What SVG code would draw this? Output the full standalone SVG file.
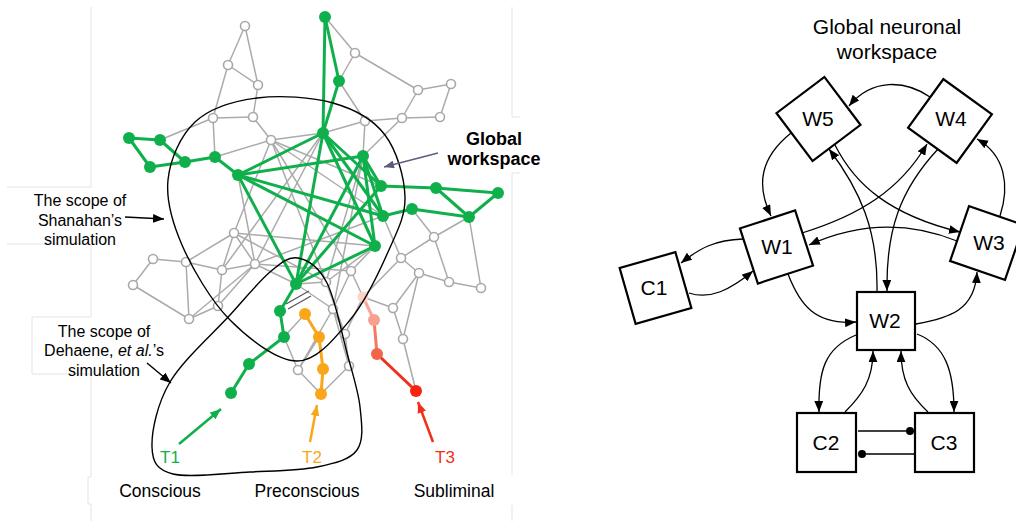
<svg xmlns="http://www.w3.org/2000/svg" width="1016" height="521" viewBox="0 0 1016 521">
<defs>
<style>
text{font-family:"Liberation Sans",Arial,sans-serif;fill:#000}
.bd{fill:none;stroke:#e3e3e3;stroke-width:1}
.ge{stroke:#ababab;stroke-width:1.5;fill:none}
.gn{fill:#fff;stroke:#a8a8a8;stroke-width:1.6}
.gr{stroke:#0fb04c;stroke-width:3;fill:none}
.grn{fill:#0fb04c}
.or{stroke:#f9a61a;stroke-width:3;fill:none}
.orn{fill:#f9a61a}
.scope{fill:none;stroke:#000;stroke-width:1.4}
.box{fill:#fff;stroke:#000;stroke-width:2.2}
.cn{fill:none;stroke:#000;stroke-width:1.3}
.lbl{font-size:21px;text-anchor:middle}
.note{font-size:16px;text-anchor:middle}
.cat{font-size:17.5px;text-anchor:middle}
</style>
<marker id="ah" viewBox="0 0 10 8" refX="10" refY="4" markerWidth="11" markerHeight="9" markerUnits="userSpaceOnUse" orient="auto"><path d="M0,0 L10,4 L0,8 z" fill="#000"/></marker>
<marker id="ahk" viewBox="0 0 10 8" refX="10" refY="4" markerWidth="11" markerHeight="9" markerUnits="userSpaceOnUse" orient="auto"><path d="M0,0 L10,4 L0,8 z" fill="#000"/></marker>
<marker id="ahs" viewBox="0 0 10 8" refX="10" refY="4" markerWidth="11" markerHeight="8" markerUnits="userSpaceOnUse" orient="auto"><path d="M0,0 L10,4 L0,8 z" fill="#5b5b80"/></marker>
<marker id="ahg" viewBox="0 0 10 8" refX="10" refY="4" markerWidth="11" markerHeight="9" markerUnits="userSpaceOnUse" orient="auto"><path d="M0,0 L10,4 L0,8 z" fill="#0fb04c"/></marker>
<marker id="aho" viewBox="0 0 10 8" refX="10" refY="4" markerWidth="11" markerHeight="9" markerUnits="userSpaceOnUse" orient="auto"><path d="M0,0 L10,4 L0,8 z" fill="#f9a61a"/></marker>
<marker id="ahr" viewBox="0 0 10 8" refX="10" refY="4" markerWidth="11" markerHeight="9" markerUnits="userSpaceOnUse" orient="auto"><path d="M0,0 L10,4 L0,8 z" fill="#f0301a"/></marker>
</defs>
<rect x="0" y="0" width="1016" height="521" fill="#fff"/>

<g id="panel-borders">
<path class="bd" d="M91,7 V187 H7 M7,244 H91 V317 H32 V374 H91 V477 H88 V504 H91 V521 M512,7 V117 H520 M520,173 H512 V475 M512,505 V521"/>
</g>

<g id="network-edges">
<g class="ge">
<line x1="245" y1="26" x2="228" y2="65"/>
<line x1="245" y1="26" x2="258" y2="85"/>
<line x1="228" y1="65" x2="258" y2="85"/>
<line x1="228" y1="65" x2="213" y2="118"/>
<line x1="213" y1="118" x2="253" y2="117"/>
<line x1="258" y1="85" x2="253" y2="117"/>
<line x1="213" y1="118" x2="160" y2="140"/>
<line x1="213" y1="118" x2="215" y2="157"/>
<line x1="253" y1="117" x2="271" y2="140"/>
<line x1="215" y1="157" x2="271" y2="140"/>
<line x1="271" y1="140" x2="323" y2="133"/>
<line x1="355" y1="53" x2="325" y2="17"/>
<line x1="355" y1="53" x2="339" y2="81"/>
<line x1="355" y1="53" x2="418" y2="90"/>
<line x1="365" y1="121" x2="339" y2="81"/>
<line x1="365" y1="121" x2="323" y2="133"/>
<line x1="365" y1="121" x2="363" y2="156"/>
<line x1="365" y1="121" x2="402" y2="118"/>
<line x1="402" y1="118" x2="418" y2="90"/>
<line x1="402" y1="118" x2="440" y2="117"/>
<line x1="418" y1="90" x2="451" y2="84"/>
<line x1="451" y1="84" x2="440" y2="117"/>
<line x1="402" y1="118" x2="363" y2="156"/>
<line x1="271" y1="140" x2="381" y2="186"/>
<line x1="271" y1="140" x2="383" y2="216"/>
<line x1="271" y1="140" x2="351" y2="271"/>
<line x1="271" y1="140" x2="326" y2="282"/>
<line x1="271" y1="140" x2="234" y2="233"/>
<line x1="238" y1="175" x2="255" y2="264"/>
<line x1="323" y1="133" x2="255" y2="264"/>
<line x1="323" y1="133" x2="222" y2="270"/>
<line x1="363" y1="156" x2="326" y2="282"/>
<line x1="363" y1="156" x2="333" y2="309"/>
<line x1="383" y1="216" x2="255" y2="264"/>
<line x1="234" y1="233" x2="186" y2="262"/>
<line x1="234" y1="233" x2="222" y2="270"/>
<line x1="234" y1="233" x2="255" y2="264"/>
<line x1="234" y1="233" x2="375" y2="246"/>
<line x1="234" y1="233" x2="326" y2="282"/>
<line x1="153" y1="259" x2="186" y2="262"/>
<line x1="153" y1="259" x2="133" y2="285"/>
<line x1="133" y1="285" x2="189" y2="319"/>
<line x1="186" y1="262" x2="189" y2="319"/>
<line x1="186" y1="262" x2="222" y2="270"/>
<line x1="222" y1="270" x2="255" y2="264"/>
<line x1="222" y1="270" x2="218" y2="306"/>
<line x1="218" y1="306" x2="189" y2="319"/>
<line x1="189" y1="319" x2="255" y2="264"/>
<line x1="218" y1="306" x2="255" y2="264"/>
<line x1="255" y1="264" x2="351" y2="271"/>
<line x1="255" y1="264" x2="296" y2="284"/>
<line x1="296" y1="284" x2="326" y2="282"/>
<line x1="326" y1="282" x2="375" y2="246"/>
<line x1="326" y1="282" x2="345" y2="334"/>
<line x1="351" y1="271" x2="375" y2="246"/>
<line x1="351" y1="271" x2="333" y2="309"/>
<line x1="351" y1="271" x2="363" y2="297"/>
<line x1="333" y1="309" x2="345" y2="334"/>
<line x1="333" y1="309" x2="296" y2="284"/>
<line x1="333" y1="309" x2="298" y2="370"/>
<line x1="345" y1="334" x2="349" y2="366"/>
<line x1="345" y1="334" x2="363" y2="297"/>
<line x1="349" y1="366" x2="321" y2="394"/>
<line x1="349" y1="366" x2="333" y2="309"/>
<line x1="298" y1="370" x2="284" y2="337"/>
<line x1="298" y1="370" x2="319" y2="337"/>
<line x1="298" y1="370" x2="321" y2="394"/>
<line x1="284" y1="337" x2="305" y2="314"/>
<line x1="434" y1="237" x2="412" y2="209"/>
<line x1="434" y1="237" x2="469" y2="217"/>
<line x1="434" y1="237" x2="401" y2="258"/>
<line x1="434" y1="237" x2="449" y2="282"/>
<line x1="401" y1="258" x2="383" y2="216"/>
<line x1="401" y1="258" x2="419" y2="273"/>
<line x1="401" y1="258" x2="363" y2="297"/>
<line x1="419" y1="273" x2="449" y2="282"/>
<line x1="449" y1="282" x2="481" y2="288"/>
<line x1="481" y1="288" x2="469" y2="217"/>
<line x1="419" y1="273" x2="393" y2="308"/>
<line x1="419" y1="273" x2="403" y2="339"/>
<line x1="393" y1="308" x2="403" y2="339"/>
<line x1="393" y1="308" x2="363" y2="297"/>
<line x1="403" y1="339" x2="416" y2="391"/>
</g>
<g class="gr">
<line x1="129" y1="138" x2="160" y2="140"/>
<line x1="129" y1="138" x2="150" y2="167"/>
<line x1="150" y1="167" x2="185" y2="162"/>
<line x1="160" y1="140" x2="185" y2="162"/>
<line x1="185" y1="162" x2="215" y2="157"/>
<line x1="215" y1="157" x2="238" y2="175"/>
<line x1="325" y1="17" x2="339" y2="81"/>
<line x1="325" y1="17" x2="323" y2="133"/>
<line x1="339" y1="81" x2="323" y2="133"/>
<line x1="323" y1="133" x2="238" y2="175"/>
<line x1="323" y1="133" x2="296" y2="284"/>
<line x1="323" y1="133" x2="381" y2="186"/>
<line x1="323" y1="133" x2="383" y2="216"/>
<line x1="323" y1="133" x2="375" y2="246"/>
<line x1="363" y1="156" x2="238" y2="175"/>
<line x1="363" y1="156" x2="381" y2="186"/>
<line x1="363" y1="156" x2="383" y2="216"/>
<line x1="363" y1="156" x2="296" y2="284"/>
<line x1="363" y1="156" x2="375" y2="246"/>
<line x1="381" y1="186" x2="436" y2="188"/>
<line x1="436" y1="188" x2="498" y2="193"/>
<line x1="436" y1="188" x2="469" y2="217"/>
<line x1="498" y1="193" x2="469" y2="217"/>
<line x1="383" y1="216" x2="412" y2="209"/>
<line x1="412" y1="209" x2="469" y2="217"/>
<line x1="238" y1="175" x2="383" y2="216"/>
<line x1="238" y1="175" x2="375" y2="246"/>
<line x1="238" y1="175" x2="296" y2="284"/>
<line x1="375" y1="246" x2="296" y2="284"/>
<line x1="381" y1="186" x2="296" y2="284"/>
<line x1="296" y1="284" x2="280" y2="311"/>
<line x1="280" y1="311" x2="284" y2="337"/>
<line x1="284" y1="337" x2="249" y2="364"/>
<line x1="249" y1="364" x2="231" y2="393"/>
</g>
<g class="or">
<line x1="305" y1="314" x2="319" y2="337"/>
<line x1="319" y1="337" x2="323" y2="369"/>
<line x1="323" y1="369" x2="321" y2="394"/>
</g>
<line x1="363" y1="297" x2="374" y2="320" stroke="#f8a595" stroke-width="3"/>
<line x1="374" y1="320" x2="377" y2="354" stroke="#f47a60" stroke-width="3"/>
<line x1="377" y1="354" x2="416" y2="391" stroke="#f0301a" stroke-width="3"/>
<g stroke="#555" stroke-width="1.3">
<line x1="288" y1="309" x2="311" y2="296"/>
<line x1="286" y1="304" x2="309" y2="291"/>
</g>
</g>

<g id="network-nodes">
<g class="gn">
<circle cx="245" cy="26" r="4.5"/><circle cx="228" cy="65" r="4.5"/><circle cx="258" cy="85" r="4.5"/>
<circle cx="213" cy="118" r="4.5"/><circle cx="253" cy="117" r="4.5"/><circle cx="271" cy="140" r="4.5"/>
<circle cx="355" cy="53" r="4.5"/><circle cx="365" cy="121" r="4.5"/><circle cx="402" cy="118" r="4.5"/>
<circle cx="418" cy="90" r="4.5"/><circle cx="451" cy="84" r="4.5"/><circle cx="440" cy="117" r="4.5"/>
<circle cx="234" cy="233" r="4.5"/><circle cx="153" cy="259" r="4.5"/><circle cx="186" cy="262" r="4.5"/>
<circle cx="222" cy="270" r="4.5"/><circle cx="255" cy="264" r="4.5"/><circle cx="133" cy="285" r="4.5"/>
<circle cx="218" cy="306" r="4.5"/><circle cx="189" cy="319" r="4.5"/><circle cx="326" cy="282" r="4.5"/>
<circle cx="351" cy="271" r="4.5"/><circle cx="333" cy="309" r="4.5"/><circle cx="345" cy="334" r="4.5"/>
<circle cx="298" cy="370" r="4.5"/><circle cx="349" cy="366" r="4.5"/><circle cx="434" cy="237" r="4.5"/>
<circle cx="401" cy="258" r="4.5"/><circle cx="419" cy="273" r="4.5"/><circle cx="449" cy="282" r="4.5"/>
<circle cx="481" cy="288" r="4.5"/><circle cx="393" cy="308" r="4.5"/><circle cx="403" cy="339" r="4.5"/>
</g>
<g class="grn">
<circle cx="325" cy="17" r="6"/><circle cx="339" cy="81" r="6"/><circle cx="323" cy="133" r="6"/>
<circle cx="363" cy="156" r="6"/><circle cx="381" cy="186" r="6"/><circle cx="383" cy="216" r="6"/>
<circle cx="412" cy="209" r="6"/><circle cx="436" cy="188" r="6"/><circle cx="498" cy="193" r="6"/>
<circle cx="469" cy="217" r="6"/><circle cx="375" cy="246" r="6"/>
<circle cx="129" cy="138" r="6"/><circle cx="160" cy="140" r="6"/><circle cx="150" cy="167" r="6"/>
<circle cx="185" cy="162" r="6"/><circle cx="215" cy="157" r="6"/><circle cx="238" cy="175" r="6"/>
<circle cx="296" cy="284" r="6"/><circle cx="280" cy="311" r="6"/><circle cx="284" cy="337" r="6"/>
<circle cx="249" cy="364" r="6"/><circle cx="231" cy="393" r="6"/>
</g>
<g class="orn">
<circle cx="305" cy="314" r="6"/><circle cx="319" cy="337" r="6"/><circle cx="323" cy="369" r="6"/><circle cx="321" cy="394" r="6"/>
</g>
<circle cx="363" cy="297" r="5.5" fill="#fcd3c9"/>
<circle cx="374" cy="320" r="6" fill="#f8a090"/>
<circle cx="377" cy="354" r="6" fill="#f2654a"/>
<circle cx="416" cy="391" r="6" fill="#f5230f"/>
</g>

<g id="scopes">
<path class="scope" d="M297,361 C277,361 249,339 230,320 C211,301 192,268 182,245 C172,222 166,200 168,180 C170,160 180,136 195,122 C210,108 234,101 257,98 C280,95 312,97 333,103 C354,109 373,119 385,135 C397,151 404.5,177.5 405,197 C405.5,216.5 397,231.5 388,252 C379,272.5 365,302 350,320 C335,338 317,361 297,361 Z"/>
<path class="scope" d="M298,258 C307.5,259.8 318.8,267.2 327,283 C335.2,298.8 341.5,332.3 347,353 C352.5,373.7 358.3,390.8 360,407 C361.7,423.2 364.2,440 357,450 C349.8,460 334.8,463.3 317,467 C299.2,470.7 274,470.8 250,472 C226,473.2 189.3,478.2 173,474 C156.7,469.8 152.5,462.3 152,447 C151.5,431.7 157,404 170,382 C183,360 213.3,333.3 230,315 C246.7,296.7 258.7,281.5 270,272 C281.3,262.5 288.5,256.2 298,258 Z"/>
</g>

<g id="left-labels">
<text class="note" x="80" y="206">The scope of</text>
<text class="note" x="80" y="226">Shanahan’s</text>
<text class="note" x="80" y="245">simulation</text>
<line x1="125" y1="217" x2="164" y2="219" stroke="#000" stroke-width="1.4" marker-end="url(#ahk)"/>
<text class="note" x="104" y="337">The scope of</text>
<text class="note" x="104" y="356">Dehaene, <tspan font-style="italic">et al.</tspan>’s</text>
<text class="note" x="104" y="376">simulation</text>
<line x1="147" y1="363" x2="171" y2="383" stroke="#000" stroke-width="1.4" marker-end="url(#ahk)"/>
<text x="494" y="145" font-size="18" font-weight="bold" text-anchor="middle">Global</text>
<text x="494" y="165" font-size="18" font-weight="bold" text-anchor="middle">workspace</text>
<line x1="438" y1="153" x2="384" y2="167" stroke="#5b5b80" stroke-width="1.3" marker-end="url(#ahs)"/>
<line x1="179" y1="444" x2="221" y2="409" stroke="#0fb04c" stroke-width="2.5" marker-end="url(#ahg)"/>
<line x1="310" y1="442" x2="317" y2="405" stroke="#f9a61a" stroke-width="2.5" marker-end="url(#aho)"/>
<line x1="433" y1="442" x2="418" y2="402" stroke="#f0301a" stroke-width="2.5" marker-end="url(#ahr)"/>
<text x="170" y="463" font-size="17" text-anchor="middle" style="fill:#0fb04c">T1</text>
<text x="312" y="463" font-size="17" text-anchor="middle" style="fill:#f9a61a">T2</text>
<text x="445" y="463" font-size="17" text-anchor="middle" style="fill:#f0301a">T3</text>
<text class="cat" x="160" y="497">Conscious</text>
<text class="cat" x="307" y="497">Preconscious</text>
<text class="cat" x="454" y="497">Subliminal</text>
</g>

<g id="title">
<text x="887" y="34" font-size="21" text-anchor="middle">Global neuronal</text>
<text x="887" y="59" font-size="21" text-anchor="middle">workspace</text>
</g>

<g id="connectors">
<path class="cn" marker-end="url(#ah)" d="M930,97 C905,80 872,78 849,106"/>
<path class="cn" marker-end="url(#ah)" d="M791,133 C760,158 756,185 771,216"/>
<path class="cn" marker-end="url(#ah)" d="M835,145 C855,185 890,215 960,232"/>
<path class="cn" marker-end="url(#ah)" d="M877,291 C878,230 860,190 829,149"/>
<path class="cn" marker-end="url(#ah)" d="M938,149 C900,190 886,230 887,291"/>
<path class="cn" marker-end="url(#ah)" d="M802,233 C860,215 900,190 927,144"/>
<path class="cn" marker-end="url(#ah)" d="M957,241 C910,222 860,222 809,245"/>
<path class="cn" marker-end="url(#ah)" d="M1000,216 C1010,185 1005,155 977,139"/>
<path class="cn" marker-end="url(#ah)" d="M743,239 C715,240 700,248 681,263"/>
<path class="cn" marker-end="url(#ah)" d="M689,293 C710,300 730,290 753,271"/>
<path class="cn" marker-end="url(#ah)" d="M788,274 C800,305 815,325 856,322"/>
<path class="cn" marker-end="url(#ah)" d="M916,324 C950,318 975,310 977,272"/>
<path class="cn" marker-end="url(#ah)" d="M856,335 C825,348 818,370 819,412"/>
<path class="cn" marker-end="url(#ah)" d="M845,412 C862,395 873,380 873,351"/>
<path class="cn" marker-end="url(#ah)" d="M928,412 C910,395 901,380 901,351"/>
<path class="cn" marker-end="url(#ah)" d="M917,334 C945,345 954,370 954,412"/>
<path class="cn" d="M858,431 H906"/>
<circle cx="910" cy="431" r="4"/>
<path class="cn" d="M914,454 H866"/>
<circle cx="862" cy="454" r="4"/>
</g>

<g id="W5"><rect class="box" x="-30" y="-30" width="60" height="60" transform="translate(818.5,119) rotate(-37)"/><text class="lbl" x="818" y="126">W5</text></g>
<g id="W4"><rect class="box" x="-30" y="-30" width="60" height="60" transform="translate(950,121) rotate(36)"/><text class="lbl" x="951" y="126">W4</text></g>
<g id="W1"><rect class="box" x="-29" y="-29" width="58" height="58" transform="translate(776.5,247) rotate(-18)"/><text class="lbl" x="777" y="254">W1</text></g>
<g id="W3"><rect class="box" x="-29" y="-29" width="58" height="58" transform="translate(987,243) rotate(19)"/><text class="lbl" x="989" y="250">W3</text></g>
<g id="C1"><rect class="box" x="-29" y="-29" width="58" height="58" transform="translate(655.5,288) rotate(-16)"/><text class="lbl" x="654" y="295">C1</text></g>
<g id="W2"><rect class="box" x="857" y="292" width="58" height="58"/><text class="lbl" x="885" y="328">W2</text></g>
<g id="C2"><rect class="box" x="797" y="413" width="59" height="59"/><text class="lbl" x="826" y="450">C2</text></g>
<g id="C3"><rect class="box" x="915" y="413" width="59" height="59"/><text class="lbl" x="944" y="450">C3</text></g>
</svg>
